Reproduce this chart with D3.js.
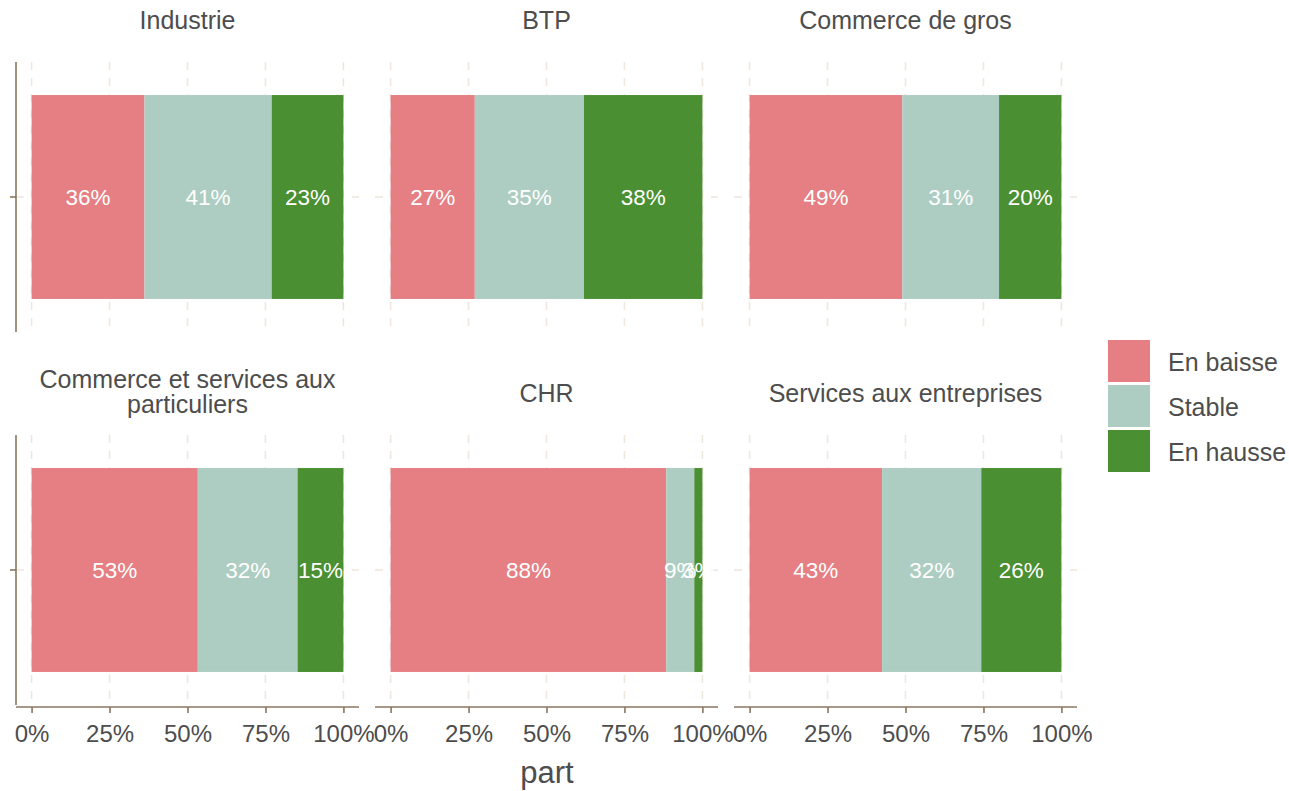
<!DOCTYPE html>
<html>
<head>
<meta charset="utf-8">
<script src="https://d3js.org/d3.v7.min.js"></script>
<style>
  body { margin: 0; padding: 0; background: #fff; }
  text { font-family: "Liberation Sans", Arial, sans-serif; }
</style>
</head>
<body>
<div id="chart"></div>
<script>
// data
var secteurs = ["Industrie", "BTP", "Commerce de gros",
                "Commerce et services aux particuliers", "CHR", "Services aux entreprises"];
var modalites = ["En baisse", "Stable", "En hausse"];
var enBaisse = [36.2, 27.0, 49.0, 53.3, 88.4, 42.5];
var stable   = [40.8, 35.0, 31.0, 32.0, 9.0, 31.8];
var enHausse = [23.0, 38.0, 20.0, 14.7, 2.6, 25.7];
var xTicks = [0, 25, 50, 75, 100];
var couleurs = ["#e57f83", "#aecdc2", "#4a8f32"];

var W = 1289, H = 791;
var svg = d3.select("#chart").append("svg")
    .attr("width", W).attr("height", H);

var panelW = 343, panelH = 270;
var panelX = [16, 375, 734];
var panelY = [62, 435];

var x = d3.scaleLinear().domain([-5, 105]).range([0, panelW]);
var y = d3.scaleBand().domain(["a"]).range([0, panelH]).paddingOuter(0.162).paddingInner(0);

var color = d3.scaleOrdinal().domain(modalites).range(couleurs);

var gridCol = "#efe6dc", axisCol = "#8b7660", textCol = "#4d4d4d";

secteurs.forEach(function (s, i) {
  var col = i % 3, row = Math.floor(i / 3);
  var g = svg.append("g")
      .attr("transform", "translate(" + panelX[col] + "," + panelY[row] + ")");

  // grid
  g.selectAll(".vg").data(xTicks).enter().append("line")
      .attr("x1", d => x(d)).attr("x2", d => x(d))
      .attr("y1", 0).attr("y2", panelH)
      .attr("stroke", gridCol).attr("stroke-width", 1.6)
      .attr("stroke-dasharray", "8,8");
  g.append("line")
      .attr("x1", 0).attr("x2", panelW)
      .attr("y1", y("a") + y.bandwidth() / 2).attr("y2", y("a") + y.bandwidth() / 2)
      .attr("stroke", gridCol).attr("stroke-width", 1.6)
      .attr("stroke-dasharray", "8,8");

  // stacked bar
  var vals = [enBaisse[i], stable[i], enHausse[i]];
  var segs = [], cum = 0;
  vals.forEach(function (v, k) {
    segs.push({ key: modalites[k], x0: cum, x1: cum + v, v: v });
    cum += v;
  });
  g.selectAll(".seg").data(segs).enter().append("rect")
      .attr("x", d => x(d.x0))
      .attr("width", d => x(d.x1) - x(d.x0))
      .attr("y", y("a"))
      .attr("height", y.bandwidth())
      .attr("fill", d => color(d.key));
  g.selectAll(".lab").data(segs).enter().append("text")
      .attr("x", d => x((d.x0 + d.x1) / 2))
      .attr("y", y("a") + y.bandwidth() / 2)
      .attr("dy", "0.35em")
      .attr("text-anchor", "middle")
      .attr("fill", "#fff")
      .style("font-size", "22.5px")
      .text(d => Math.round(d.v) + "%");

  // title
  var words = s.length > 30 ? ["Commerce et services aux", "particuliers"] : [s];
  var t = g.append("text")
      .attr("text-anchor", "middle")
      .attr("fill", textCol)
      .style("font-size", "25px");
  var ty = words.length > 1 ? -47 : -33;
  words.forEach(function (w, k) {
    t.append("tspan").attr("x", panelW / 2).attr("y", ty + k * 25).text(w);
  });

  // left axis on first column
  if (col === 0) {
    g.append("line").attr("x1", 0).attr("x2", 0).attr("y1", 0).attr("y2", panelH)
        .attr("stroke", axisCol).attr("stroke-width", 1.6);
    g.append("line").attr("x1", -6).attr("x2", 0)
        .attr("y1", y("a") + y.bandwidth() / 2).attr("y2", y("a") + y.bandwidth() / 2)
        .attr("stroke", axisCol).attr("stroke-width", 1.6);
  }

  // bottom axis on last row
  if (row === 1) {
    var ax = g.append("g").attr("transform", "translate(0," + (panelH + 2) + ")")
        .call(d3.axisBottom(x).tickValues(xTicks).tickSize(6).tickSizeOuter(0)
          .tickFormat(d => d + "%"));
    ax.select(".domain").attr("stroke", axisCol).attr("stroke-width", 1.6)
        .attr("d", "M0,0H" + panelW);
    ax.selectAll(".tick line").attr("stroke", axisCol).attr("stroke-width", 1.6);
    ax.selectAll(".tick text").attr("fill", textCol).style("font-size", "24px")
        .attr("y", 18).attr("font-family", null);
  }
});

// x axis title
svg.append("text")
    .attr("x", 547).attr("y", 783)
    .attr("text-anchor", "middle")
    .attr("fill", textCol)
    .style("font-size", "31px")
    .text("part");

// legend
var leg = svg.append("g").attr("transform", "translate(1108,340)");
modalites.forEach(function (m, k) {
  leg.append("rect").attr("x", 0).attr("y", k * 45).attr("width", 42).attr("height", 42)
      .attr("fill", color(m));
  leg.append("text").attr("x", 60).attr("y", k * 45 + 22).attr("dy", "0.35em")
      .attr("fill", textCol).style("font-size", "25px").text(m);
});
</script>
</body>
</html>
